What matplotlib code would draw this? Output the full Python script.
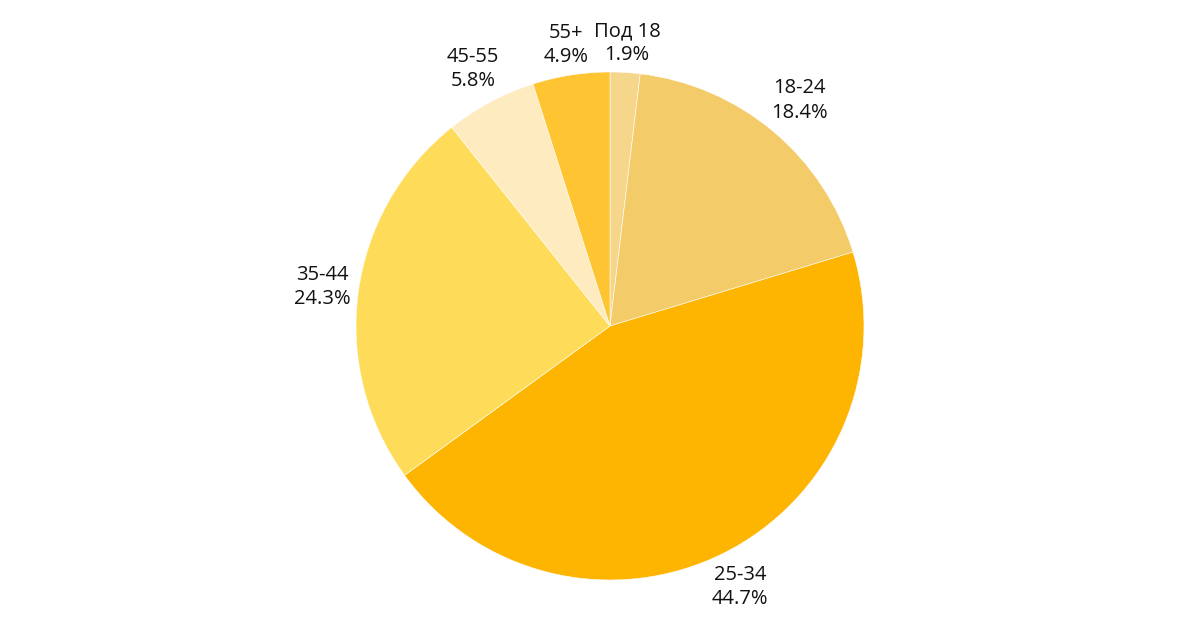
import numpy as np
import matplotlib

matplotlib.use("Agg")
import matplotlib.pyplot as plt  # noqa: E402

# Age groups, clockwise from 12 o'clock
LABELS = ["Под 18", "18-24", "25-34", "35-44", "45-55", "55+"]
SHARES = [1.9, 18.4, 44.7, 24.3, 5.8, 4.9]
COLORS = ["#F6D68A", "#F3CB69", "#FDB502", "#FEDC59", "#FEEBBF", "#FEC432"]

R_PX = 254
CX, CY = 610, 326
W, H = 1200, 630
LABEL_GAP = 1.02  # label box edge sits just outside the rim

plt.rcParams["font.family"] = ["Open Sans", "DejaVu Sans"]

fig = plt.figure(figsize=(12, 6.3), dpi=100)
ax = fig.add_axes([0, 0, 1, 1])

wedges, _ = ax.pie(
    SHARES,
    colors=COLORS,
    startangle=90,
    counterclock=False,
    radius=1.0,
    wedgeprops=dict(edgecolor="white", linewidth=0.4),
)

ax.set_xlim(-CX / R_PX, (W - CX) / R_PX)
ax.set_ylim(-(H - CY) / R_PX, CY / R_PX)
ax.set_aspect("equal")
ax.axis("off")

fig.canvas.draw()
renderer = fig.canvas.get_renderer()

for w, lab, val in zip(wedges, LABELS, SHARES):
    mid = np.deg2rad((w.theta1 + w.theta2) / 2)
    t = ax.text(0, 0, f"{lab}\n{val:.1f}%", ha="center", va="center",
                fontsize=14.5, color="#111111", linespacing=1.3)
    bb = t.get_window_extent(renderer)
    hw = bb.width / 2 / R_PX
    hh = bb.height / 2 / R_PX
    c, s = np.cos(mid), np.sin(mid)
    d = LABEL_GAP + abs(c) * hw + abs(s) * hh
    t.set_position((d * c, d * s))

fig.savefig("out.png", dpi=100, facecolor="white")
